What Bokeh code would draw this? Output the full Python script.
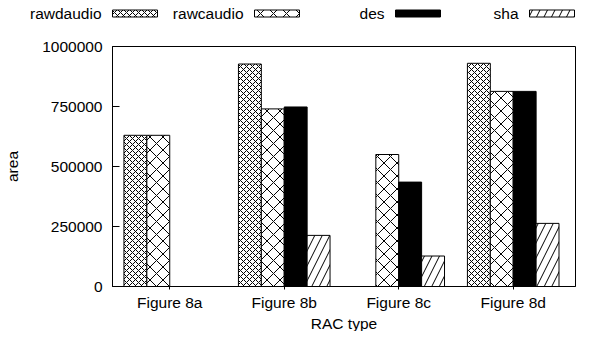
from bokeh.plotting import figure
from bokeh.models import Range1d, FixedTicker, PrintfTickFormatter, LinearAxis, BoxAnnotation
from bokeh.core.properties import value
from bokeh.embed import file_html
from bokeh.resources import INLINE

# ---- data ----
categories = ["Figure 8a", "Figure 8b", "Figure 8c", "Figure 8d"]
series_names = ["rawdaudio", "rawcaudio", "des", "sha"]
rawdaudio = [630000, 927000, 0, 930000]
rawcaudio = [630000, 740000, 550000, 813000]
des = [0, 748000, 435000, 813000]
sha = [0, 213000, 127000, 263000]
y_ticks = [0, 250000, 500000, 750000, 1000000]

series_values = [rawdaudio, rawcaudio, des, sha]

FONT = "Liberation Sans"
FS = "15.5px"

styles = [
    dict(fill_color="white", hatch_pattern="diagonal_cross", hatch_scale=6, hatch_weight=1, hatch_color="black"),
    dict(fill_color="white", hatch_pattern="diagonal_cross", hatch_scale=13, hatch_weight=1, hatch_color="black"),
    dict(fill_color="black"),
    dict(fill_color="white", hatch_pattern="right_diagonal_line", hatch_scale=15, hatch_weight=1, hatch_color="black"),
]

# canvas geometry (pixels): the data box inside a full-canvas frame
W, H = 576, 331
L, R, T, B = 112, 575, 46, 286
XA, XB = -0.5, 3.544          # visible category span
YA, YB = 0, 1000000           # value span
kx = (R - L) / (XB - XA)
ky = (B - T) / (YB - YA)

p = figure(width=W, height=H,
           x_range=Range1d(XA - L / kx, XB + (W - R) / kx),
           y_range=Range1d(YA - (H - B) / ky, YB + T / ky),
           x_axis_type=None, y_axis_type=None,
           output_backend="svg", toolbar_location=None,
           min_border=0, min_border_left=0, min_border_right=0, min_border_top=0, min_border_bottom=0)
p.grid.visible = False
p.outline_line_color = None
p.background_fill_color = "white"

n = len(series_names)
bw = 0.2
for i, (vals, st) in enumerate(zip(series_values, styles)):
    xs = [k + (i - (n - 1) / 2) * bw for k in range(len(categories))]
    p.vbar(x=xs, top=vals, bottom=0, width=bw, line_color="black", line_width=1, **st)

# frame box of the chart
p.add_layout(BoxAnnotation(left=XA, right=XB, bottom=YA, top=YB, fill_color=None,
                           line_color="black", line_width=1, line_alpha=1))

xaxis = LinearAxis(fixed_location=YA, bounds=(XA, XB))
xaxis.ticker = FixedTicker(ticks=list(range(len(categories))))
xaxis.major_label_overrides = {i: c for i, c in enumerate(categories)}
xaxis.minor_tick_line_color = None
xaxis.major_tick_in = 0
xaxis.major_tick_out = 3
xaxis.major_label_standoff = 4
xaxis.axis_label = "RAC type"
xaxis.axis_label_standoff = 1
p.add_layout(xaxis, "below")

yaxis = LinearAxis(fixed_location=XA, bounds=(YA, YB))
yaxis.ticker = FixedTicker(ticks=y_ticks)
yaxis.formatter = PrintfTickFormatter(format="%d")
yaxis.minor_tick_line_color = None
yaxis.major_tick_in = 7
yaxis.major_tick_out = 0
yaxis.major_label_standoff = 10
yaxis.axis_label = "area"
yaxis.axis_label_standoff = 18
p.add_layout(yaxis, "left")

for ax in (xaxis, yaxis):
    ax.axis_line_color = "black"
    ax.major_tick_line_color = "black"
    ax.major_label_text_font = FONT
    ax.major_label_text_font_size = FS
    ax.major_label_text_color = "black"
    ax.axis_label_text_font = FONT
    ax.axis_label_text_font_size = FS
    ax.axis_label_text_font_style = "normal"
    ax.axis_label_text_color = "black"

# ---- key, laid out in canvas pixels ----
def dx(px):
    return XA + (px - L) / kx

def dy(py):
    return YA + (B - py) / ky

swatch_right = [157, 299, 440, 574]
sw_w, sw_h, ly = 45, 7, 13
for name, st, sr in zip(series_names, styles, swatch_right):
    p.rect(x=[dx(sr - sw_w / 2)], y=[dy(ly)], width=sw_w, height=sw_h,
           width_units="screen", height_units="screen", line_color="black", line_width=1, **st)
    p.text(x=[dx(sr - sw_w - 11)], y=[dy(ly - 0.5)], text=[name], text_align="right", text_baseline="middle",
           text_font=value(FONT), text_font_size=FS, text_color="black")

open("out.html", "w").write(file_html(p, INLINE))
